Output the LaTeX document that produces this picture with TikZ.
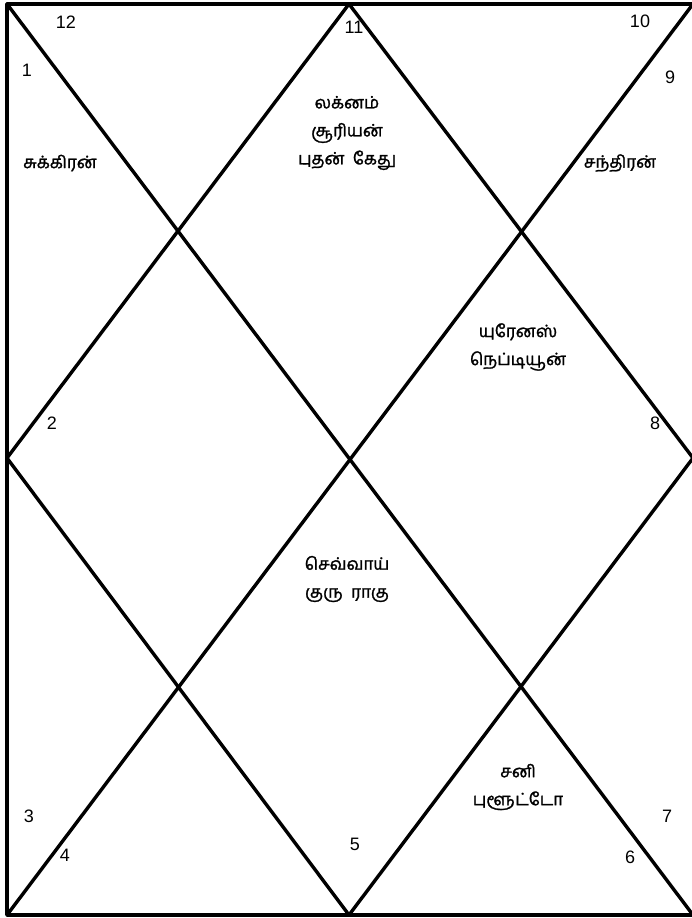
\documentclass[tikz,border=0pt]{standalone}
\usepackage{fontspec}
\setmainfont{Liberation Sans}
\newfontfamily\tamil[Script=Tamil,FakeBold=1.5]{Hind Madurai}
\begin{document}
\begin{tikzpicture}[x=1pt,y=-1pt,
  chartline/.style={line width=3.4pt,line cap=round,line join=round},
  num/.style={inner sep=0pt,font=\fontsize{18}{22}\selectfont},
  tam/.style={inner sep=0pt,align=center,font=\tamil\fontsize{17}{28}\selectfont}]
\useasboundingbox (0,0) rectangle (691,918);
\coordinate (TL) at (7,4);
\coordinate (TR) at (693,4);
\coordinate (BL) at (7,915);
\coordinate (BR) at (693,915);
\coordinate (T) at (349,4);
\coordinate (L) at (7,458);
\coordinate (B) at (349,915);
\coordinate (R) at (693,458);
\draw[chartline] (TR) -- (TL) -- (BL) -- (BR);
\draw[chartline] (TL) -- (BR);
\draw[chartline] (TR) -- (BL);
\draw[chartline] (T) -- (L) -- (B) -- (R) -- cycle;
% house numbers
\node[num] (n12) at (66,22) {12};
\node[num] (n1) at (27,70) {1};
\node[num] (n11) at (354,27) {11};
\node[num] (n10) at (640,21) {10};
\node[num] (n9) at (670,77) {9};
\node[num] (n2) at (52,423) {2};
\node[num] (n8) at (655,423) {8};
\node[num] (n3) at (29,816) {3};
\node[num] (n4) at (65,855) {4};
\node[num] (n5) at (355,844) {5};
\node[num] (n6) at (630,857) {6};
\node[num] (n7) at (667,816) {7};
% planets
\node[tam] (h1) at (60,163) {சுக்கிரன்};
\node[tam] (h11) at (347,133) {லக்னம்\\சூரியன்\\புதன்\ \ கேது};
\node[tam] (h9) at (620,163) {சந்திரன்};
\node[tam] (h8) at (518,347) {யுரேனஸ்\\நெப்டியூன்};
\node[tam] (hc) at (347,579) {செவ்வாய்\\குரு\ \ ராகு};
\node[tam] (h6) at (518,787) {சனி\\புளூட்டோ};
\end{tikzpicture}
\end{document}
